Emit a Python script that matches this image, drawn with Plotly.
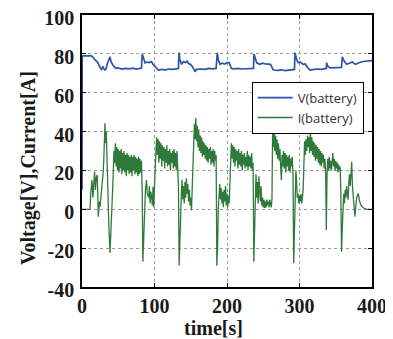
import plotly.graph_objects as go

# ---- data ----
t_v = [0, 0.3, 13, 15, 17, 19, 21, 23, 25, 27, 29, 31, 33, 35, 37, 38.6, 40, 43, 46.6, 50, 55, 60, 65, 70, 75, 80, 82,
       83, 85, 87, 90, 93, 96, 98, 100.7, 103, 105, 110, 115, 120, 125, 130, 133, 133.8, 135, 137.5, 140, 143, 145, 147,
       150, 153, 155.8, 158, 163, 170, 175, 180, 185, 186.6, 188, 190.3, 193, 197, 200, 203, 206, 210, 215, 220, 225,
       230, 235, 236.5, 237.2, 239, 241, 245, 249, 253, 257, 260, 262, 264, 270, 275, 280, 285, 290, 293, 293.8, 296,
       298.3, 301, 305, 308, 311, 314.5, 320, 325, 330, 335, 337, 337.4, 339, 342, 347, 352, 358, 359, 362, 365, 369,
       373, 377, 381, 385, 390, 395, 400]
v_batt = [10, 79, 79, 78, 77, 76.5, 76, 74, 73, 72, 73.5, 71.7, 72, 75, 77, 78.5, 76, 74, 72.5, 72.8, 72.2, 72.5, 72.3,
          72.6, 72.2, 72.5, 72.7,
          79.9, 77, 75.4, 75.8, 75.5, 76, 74.5, 73.6, 72.5, 71.7, 72, 71.8, 72.2, 72, 72.3, 72.5, 80.6, 77, 74.6, 76,
          75.5, 76.2, 75,
          74.5, 73, 70.8, 72, 72.2, 72, 72.5, 72.3, 72.5, 80.6, 77, 74.6, 75.2, 74.8, 75.5, 75.5, 72.5, 72.3, 72.5, 72.2,
          72.3, 72.5, 72.3, 72.5, 79.9, 77, 75.4, 74.6, 75.2, 74.8, 74.6, 74.6, 73, 71.7, 71.5, 71.8, 71.4, 71.6, 71.5,
          72, 80.6, 77, 75.4, 75.8, 74.6, 74.8, 73, 71.7, 72, 72.2, 72, 72.2, 72.5, 75.4, 73.6, 72.8, 72.8, 72.8, 73,
          78.5, 76, 74.6, 75.4, 75.8, 74.6, 75.4, 75.8, 76.2, 76.3, 76.5]

t_i = [0, 5, 11, 12, 13.8, 15, 16, 17.4, 18.5, 19.5, 21, 22.5, 24, 25, 26.5, 27.6, 29, 30, 31, 31.7, 32.5, 33.5, 34.5,
       35.6, 37, 38.6, 40, 41, 43,
       44, 45, 46, 47, 48, 49, 50, 51, 52, 53, 54, 55, 56, 57, 58, 59, 60, 61, 62, 63, 64, 65, 66, 67, 68, 69, 70, 71,
       72, 73, 74, 75, 76, 77, 78, 79, 80, 81, 82, 83,
       84, 85, 86, 87.5, 89, 90, 92, 93, 94, 95, 96.6, 97, 98, 99,
       100, 101, 102, 103, 104, 105, 106, 107, 108, 109, 110, 111, 112, 113, 114, 115, 116, 117, 118, 119, 120, 121,
       122, 123, 124, 125, 126, 127, 128, 129, 130, 131, 132, 133, 134,
       135, 136, 137, 138, 139, 140, 141, 142, 143, 144, 145, 146, 147, 148, 149, 150, 151, 152,
       153, 154, 155, 156, 157, 158, 159, 160, 161, 162, 163, 164, 165, 166, 167, 168, 169, 170, 171, 172, 173, 174,
       175, 176, 177, 178, 179, 180, 181, 182, 183, 184, 185, 186,
       187, 188, 189, 190, 191, 192, 193, 194, 195, 196, 197, 198, 199, 200, 201, 202, 203,
       204, 205, 206, 207, 208, 209, 210, 211, 212, 213, 214, 215, 216, 217, 218, 219, 220, 221, 222, 223, 224, 225,
       226, 227, 228, 229, 230, 231, 232, 233, 234, 235, 236, 237,
       238, 239, 240, 241, 242, 243, 244, 245, 246, 247, 248, 249, 250, 251, 252, 253, 254, 255, 256, 257, 258, 259,
       260, 261, 262,
       263, 264, 265, 266, 267, 268, 269, 270, 271, 272, 273, 274, 275, 276, 277, 278, 279, 280, 281, 282, 283, 284,
       285, 286, 287, 288, 289, 290, 291, 292,
       293, 294, 295, 296, 297, 298, 299, 300, 301, 302, 303, 304, 305,
       306, 307, 308, 309, 310, 311, 312, 313, 314, 315, 316, 317, 318, 319, 320, 321, 322, 323, 324, 325, 326, 327,
       328, 329, 330, 331, 332, 333, 334, 335, 336, 337, 338, 339, 340, 341, 342, 343, 344, 345, 346, 347, 348, 349,
       350, 351, 352, 353, 354, 355, 356, 357, 358,
       359, 360, 361, 362, 363, 364, 365, 366, 367, 368, 369, 370, 371, 372, 373, 374, 375, 376.5, 378, 379, 381, 382,
       383, 385, 387, 390, 393, 400]
i_batt = [0, 0, 0, 8, 15, 6, 14, 19.4, 10, 16, 17.7, -3.8, 4, 1.3, 8, 11.6, 18, 25, 36, 44.3, 34, 40, 26,
          8.2, -8, -22.5, -12, -5.6, 17,
          30, 24, 34, 22, 32, 20, 31, 19, 30, 21, 31, 18, 29, 20, 30, 19, 28, 17, 29, 20, 28, 18, 27, 19, 28, 17, 27,
          20, 28, 18, 27, 19, 26, 17, 27, 18, 26, 19, 25, 10,
          -27, -12, 3, 10, 15, 8, 6, 12, 3, 9, 4.4, 2, 11.6, 1,
          12, 25, 30, 37, 28, 36, 24, 35, 26, 34, 22, 33, 25, 32, 21, 31, 24, 33, 22, 30, 23, 31, 20, 29, 24, 30, 21,
          31, 22, 29, 20, 30, 23, 12, -29,
          -20, -5, 8, 15, 5, 12, 3, 14, 6, 16, 8, 13, 4, 10, 2, 6, -0.5, 10,
          25, 38, 44, 36, 47, 35, 43, 32, 41, 30, 38, 29, 37, 27, 35, 28, 34, 26, 33, 25, 32, 24, 31, 26, 32, 23, 30,
          24, 31, 22, 30, 25, 28, -29,
          -20, 0, 8, 13, 5, 11, 3, 9, 1, 10, 4, 12, 2, 8, 1, 7, 3,
          15, 28, 34, 26, 33, 24, 32, 22, 31, 25, 30, 21, 31, 23, 29, 22, 30, 20, 28, 23, 29, 21, 27, 22, 30, 20, 28,
          22, 27, 21, 29, 20, 24, -27,
          -10, 8, 18, 6, 14, 3, 17, 10, 4, 12, 2, 6, 1, 5, 0.7, 4, 1, 5, 2, 4, 1, 5,
          3, 1, 5,
          42.5, 32, 40, 30, 38, 28, 36, 26, 34, 25, 31, 22, 15, 28, 22, 30, 21, 29, 19, 28, 22, 27, 20, 28, 19, 26, 22,
          27, 18, -27.8,
          -10, 8, 20, 14, 6, 8, 3, 7, 4, 8, 3, 6, 10,
          22, 35, 28, 36, 30, 38, 32, 37, 29, 40.8, 30, 37, 28, 35, 27, 34, 25, 33, 26, 32, 24, 31, 23, 30, 22, 29, 24,
          28, 21, 26, 20, -10.7, 18, 26, 20, 27, 21, 25, 20, 26, 29, 22, 26, 20, 25, 21, 24, 19, 23, 20, 22, 10, -21.8,
          -10, 2, 8, 3, 10, 6, 12, 8, 5, 14, 18, 12, 20, 24.5, 12, 6, 2, -3.8, 3, 6, 8.2, 5, 4, 2, 1, 0.3, 0, 0]

x_ticks = [0, 100, 200, 300, 400]
y_ticks = [-40, -20, 0, 20, 40, 60, 80, 100]

serif = "Liberation Serif, Times New Roman, serif"

fig = go.Figure()
fig.add_trace(go.Scatter(x=t_v, y=v_batt, mode="lines", name="V(battery)",
                         line=dict(color="#2b55a6", width=1.7)))
fig.add_trace(go.Scatter(x=t_i, y=i_batt, mode="lines", name="I(battery)",
                         line=dict(color="#2f7a3a", width=1.3)))

axis_common = dict(showline=True, linecolor="black", linewidth=1.5, mirror="ticks",
                   ticks="inside", ticklen=4, tickcolor="black",
                   showgrid=True, gridcolor="#9a9a9a", griddash="dot", gridwidth=1,
                   zeroline=False, automargin=False, ticklabeloverflow="allow",
                   tickfont=dict(family=serif, size=20, color="#1a1a1a", weight="bold"))

fig.update_xaxes(range=[0, 400], tickvals=x_ticks, ticktext=[str(v) for v in x_ticks], **axis_common)
fig.update_yaxes(range=[-40, 100], tickvals=y_ticks, ticktext=[str(v) for v in y_ticks],
                 ticklabelstandoff=2, ticklabelshift=3, **axis_common)

fig.add_annotation(text="time[s]", xref="paper", yref="paper", x=0.455, y=-0.151,
                   showarrow=False, xanchor="center", yanchor="middle",
                   font=dict(family=serif, size=20, color="#1a1a1a", weight="bold"))
fig.add_annotation(text="Voltage[V],Current[A]", xref="paper", yref="paper", x=-0.186, y=0.4375,
                   showarrow=False, xanchor="center", yanchor="middle", textangle=-90,
                   font=dict(family=serif, size=20, color="#1a1a1a", weight="bold"))

# page body has an 8px default margin: figure is sized so the plot box lands at x 82-372, y 15-287
fig.update_layout(
    width=385, height=331,
    margin=dict(l=74, r=21, t=7, b=52, autoexpand=False),
    paper_bgcolor="white", plot_bgcolor="white",
    showlegend=True,
    legend=dict(x=0.585, y=0.755, xanchor="left", yanchor="top",
                bgcolor="white", bordercolor="black", borderwidth=1,
                font=dict(family="Open Sans, sans-serif", size=13, color="#333333"),
                tracegroupgap=0, itemwidth=35),
)

fig.write_html("out.html")
